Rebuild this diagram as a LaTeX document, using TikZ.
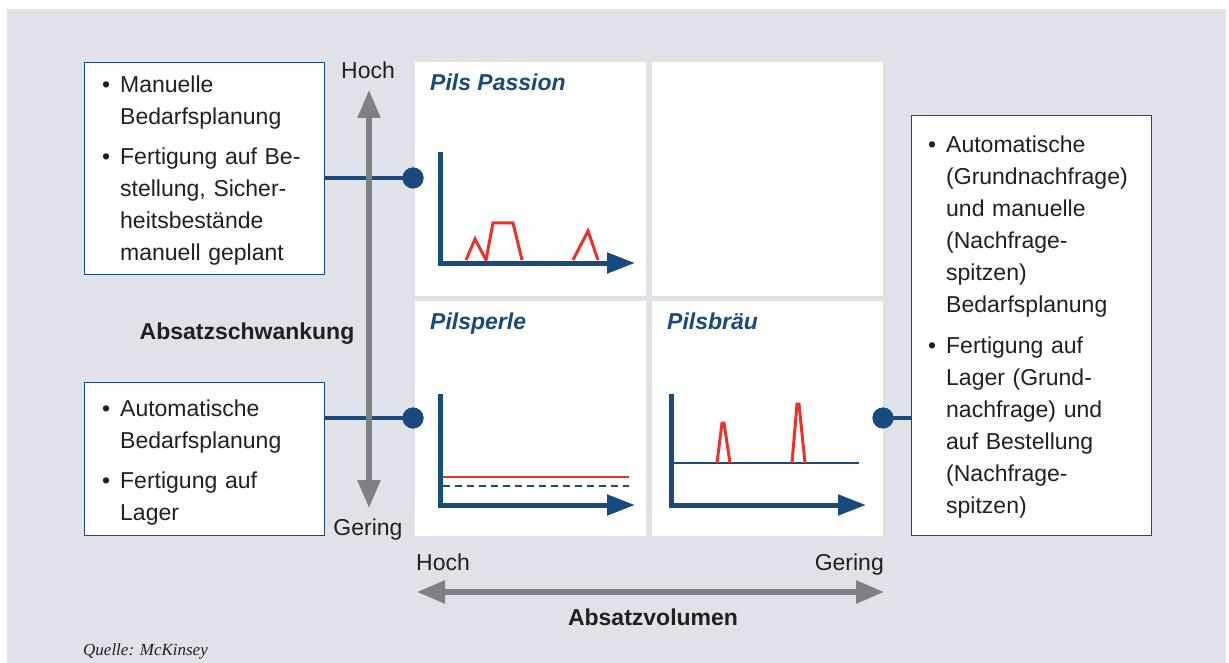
\documentclass[tikz,border=0pt]{standalone}
\usepackage{fontspec}
\setmainfont{Liberation Sans}
\newfontfamily\quellefont{Liberation Serif}
\usetikzlibrary{arrows.meta}
\definecolor{bgc}{HTML}{E1E1EA}
\definecolor{myblue}{HTML}{174B7D}
\definecolor{myred}{HTML}{EB3228}
\definecolor{arrgrey}{HTML}{808080}
\definecolor{txt}{HTML}{231F20}
\tikzset{
  panel/.style={fill=white, draw=none, inner sep=0pt, minimum width=231pt, minimum height=234pt, anchor=north west},
  infobox/.style={draw=myblue, line width=1.2pt, fill=white, anchor=north west, inner sep=0pt},
  itemtext/.style={anchor=base west, align=left, text width=200pt, inner sep=0pt, font=\fontsize{23}{32}\selectfont, text=txt},
  lbl/.style={inner sep=0pt, font=\fontsize{23}{28}\selectfont, text=txt},
  boldlbl/.style={inner sep=0pt, font=\fontsize{23}{28}\selectfont\bfseries, text=txt},
  dot/.style={circle, fill=myblue, draw=none, minimum size=21pt, inner sep=0pt},
  conn/.style={draw=myblue, line width=4pt},
  greyarrow/.style={draw=arrgrey, line width=5.5pt, {Triangle[length=28pt,width=22pt]}-{Triangle[length=28pt,width=22pt]}},
  axisline/.style={draw=myblue, line width=5pt, line join=miter, -{Triangle[length=28pt,width=20pt]}},
  redline/.style={draw=myred, line width=3pt, line join=miter},
  ctitle/.style={anchor=base west, inner sep=0pt, font=\fontsize{23}{28}\selectfont\bfseries\itshape, text=myblue},
}
\newcommand{\bul}{\llap{\textbullet\hspace{10pt}}}
\begin{document}
\begin{tikzpicture}[x=1pt, y=-1pt]
\useasboundingbox (0,0) rectangle (1229,663);
% background
\fill[bgc] (7,9) rectangle (1226,663);
% panels
\node (p1) [panel] at (415,62) {};
\node (p2) [panel] at (652,62) {};
\node (p3) [panel, minimum height=235pt] at (415,301) {};
\node (p4) [panel, minimum height=235pt] at (652,301) {};
% info boxes
\node (b1) [infobox, minimum width=240pt, minimum height=212pt] at (84,62) {};
\node (b2) [infobox, minimum width=240pt, minimum height=153pt] at (84,382) {};
\node (b3) [infobox, minimum width=240pt, minimum height=420pt] at (911,115) {};
% dots and connectors
\node (d1) [dot] at (413,178) {};
\node (d2) [dot] at (413,418) {};
\node (d3) [dot] at (883,418) {};
\draw[conn] (b1.east |- d1) -- (d1.center);
\draw[conn] (b2.east |- d2) -- (d2.center);
\draw[conn] (d3.center) -- (b3.west |- d3);
\node[dot] at (d1) {};
\node[dot] at (d2) {};
\node[dot] at (d3) {};
% grey axes
\coordinate (vtop) at (369,90);
\coordinate (vbot) at (369,508);
\coordinate (hl) at (417,592);
\coordinate (hr) at (884,592);
\draw[greyarrow] (vbot) -- (vtop);
\draw[greyarrow] (hl) -- (hr);
% axis labels
\node (hv) [lbl, anchor=base] at (368,79) {Hoch};
\node (gv) [lbl, anchor=base] at (368,535) {Gering};
\node (hh) [lbl, anchor=base west] at (416,570) {Hoch};
\node (gh) [lbl, anchor=base east] at (884,570) {Gering};
\node (asw) [boldlbl, anchor=base] at (247,339) {Absatzschwankung};
\node (avol) [boldlbl, anchor=base] at (653,625) {Absatzvolumen};
\node (quelle) [inner sep=0pt, anchor=base west, font=\quellefont\itshape\fontsize{17}{20}\selectfont, text=txt] at (83,655) {Quelle: McKinsey};
% box texts
\node (t1a) [itemtext] at (120,93) {\bul Manuelle\\Bedarfsplanung};
\node (t1b) [itemtext] at (120,165) {\bul Fertigung auf Be-\\stellung, Sicher-\\heitsbestände\\manuell geplant};
\node (t2a) [itemtext] at (120,416) {\bul Automatische\\Bedarfsplanung};
\node (t2b) [itemtext] at (120,488) {\bul Fertigung auf\\Lager};
\node (t3a) [itemtext] at (946,153) {\bul Automatische\\(Grundnachfrage)\\und manuelle\\(Nachfrage-\\spitzen)\\Bedarfsplanung};
\node (t3b) [itemtext] at (946,353) {\bul Fertigung auf\\Lager (Grund-\\nachfrage) und\\auf Bestellung\\(Nachfrage-\\spitzen)};
% chart titles
\node (ti1) [ctitle] at (430,91) {Pils Passion};
\node (ti3) [ctitle] at (430,329) {Pilsperle};
\node (ti4) [ctitle] at (667,329) {Pilsbräu};
% chart 1
\draw[redline] (466,260) -- (475,239) -- (486,260) -- (493,223) -- (513,223) -- (522,260);
\draw[redline] (573,260) -- (588,231) -- (598,260);
\draw[axisline] (440,152) -- (440,263) -- (635,263);
% chart 3 (Pilsperle)
\draw[draw=myred, line width=2.5pt] (443,477) -- (629,477);
\draw[draw=myblue, line width=2.5pt, dash pattern=on 7pt off 5pt] (443,486) -- (629,486);
\draw[axisline] (440,394) -- (440,505) -- (635,505);
% chart 4 (Pilsbraeu)
\draw[draw=myblue, line width=2pt] (671,463) -- (859,463);
\draw[redline] (717,463) -- (722,423) -- (724,423) -- (730,463);
\draw[redline] (792,463) -- (797,404) -- (799,404) -- (805,463);
\draw[axisline] (671,394) -- (671,505) -- (866,505);
\end{tikzpicture}
\end{document}
